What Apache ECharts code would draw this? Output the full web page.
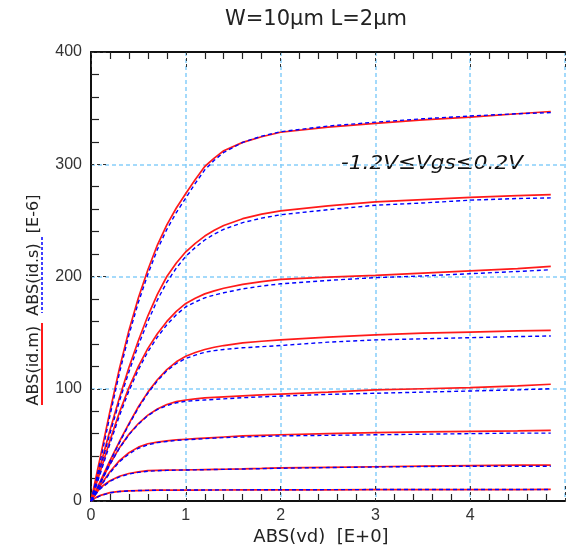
<!DOCTYPE html>
<html>
<head>
<meta charset="utf-8">
<script src="https://cdn.jsdelivr.net/npm/echarts@6/dist/echarts.min.js"></script>
<style>html,body{margin:0;padding:0;background:#fff}#c{width:568px;height:551px}</style>
</head>
<body>
<div id="c"></div>
<script>
// ---- data ----
const titleText = 'W=10\u03bcm L=2\u03bcm';
const xName = 'ABS(vd)  [E+0]';
const yNameParts = ['ABS(id.m)', 'ABS(id.s)', '[E-6]'];
const annotation = '-1.2V\u2264Vgs\u22640.2V';
const xTicks = [0, 1, 2, 3, 4];
const yTicks = [0, 100, 200, 300, 400];

const vd = [0,0.05,0.1,0.2,0.3,0.4,0.5,0.6,0.7,0.8,0.9,1.0,1.1,1.2,1.3,1.4,1.6,1.8,2.0,2.5,3.0,3.5,4.0,4.5,4.85];

// measured (red, solid)
const idm1 = [0,20,40,80,118,152,181,206,228,246,261,274,286.5,298,305.5,312,319.5,324.5,328.5,333,336.5,339.5,342,345,347];
const idm2 = [0,16,32,63,92,119,143,165,184,200,212,222,229.5,236,241.2,245.5,251.5,255.5,258.5,263,266.5,268.5,270.5,272,273];
const idm3 = [0,13.5,27,54,79,101,120,136,149,160,169,176,180.7,184.5,187.2,189.5,193,195.5,197.5,199.5,201,203,205,207,209];
const idm4 = [0,9,18,36,53,69,84,97,108,117,124,129,132.3,135,137,138.5,140.8,142.3,143.5,146,148,149.5,150.5,151.5,152];
const idm5 = [0,8,16.5,33,47.5,59.5,69,76.5,82,86,88.5,90,91,91.8,92.3,92.8,93.7,94.5,95.3,97,99,100,101,102.5,104];
const idm6 = [0,7,14,26,36,43,48,51,52.5,53.5,54.5,55,55.5,56,56.5,57,58,58.5,59,60,61,61.5,62,62.5,63];
const idm7 = [0,6.5,12,18,22,24.5,26,27,27.3,27.5,27.6,27.7,27.85,28,28.15,28.3,28.6,29,29.5,30,30.5,31,31.5,32,32];
const idm8 = [0,3,5,7.5,8.5,9,9.3,9.5,9.6,9.6,9.7,9.7,9.75,9.8,9.8,9.8,9.9,9.9,10,10,10.1,10.1,10.2,10.2,10.3];

// simulated (blue, dashed)
const ids1 = [0,17,36,76,114,148,177,202,224,242,257,270,283,295,303.5,310.5,319.5,325,329,334,337.5,340.5,343,345,346];
const ids2 = [0,15,30,60,89,115,139,160,179,195,207.5,218,225.8,232.5,237.8,242,248,252,255,259.5,263.5,265.5,268,269.5,270];
const ids3 = [0,12,25,51,76,98,117,133,146,157,166,173,177.3,181,183.5,185.5,189,191.5,193.5,196.5,199,200.5,202.5,204.5,206];
const ids4 = [0,8,17,35,52,68,83,96,107,116,122.5,127,130,132.5,134,135,136.5,137.5,138.5,141.5,143.5,144.5,145.5,146.5,147];
const ids5 = [0,8,16,32.5,47,59,68.5,76,81.5,85,87.5,88.8,89.5,90,90.5,91,92,92.8,93.5,95,96,97,98,99,100];
const ids6 = [0,6.5,13,25,35,42,47,50,52,53,54,54.5,55,55.5,56,56.5,57,57.5,58,58.5,59,59.5,60,60.5,60.5];
const ids7 = [0,6,11,17.5,21.5,24,25.5,26.5,27,27.3,27.5,27.6,27.75,27.9,28.05,28.2,28.5,28.8,29.2,29.8,30.3,30.7,31,31,31];
const ids8 = [0,2.8,4.8,7.3,8.4,9,9.3,9.5,9.6,9.7,9.7,9.8,9.8,9.8,9.85,9.9,9.9,10,10,10.1,10.2,10.2,10.2,10.3,10.3];

const measured = [idm1, idm2, idm3, idm4, idm5, idm6, idm7, idm8];
const simulated = [ids1, ids2, ids3, ids4, ids5, ids6, ids7, ids8];

// ---- chart ----
const chart = echarts.init(document.getElementById('c'), null, {renderer: 'canvas'});
const pair = arr => vd.map((x, i) => [x, arr[i]]);
const gridBlue = '#87cefa';
const series = [];
measured.forEach(arr => series.push({
  type: 'line', data: pair(arr), showSymbol: false, smooth: false,
  lineStyle: {color: '#ff1a1a', width: 1.7}, z: 3, silent: true
}));
simulated.forEach(arr => series.push({
  type: 'line', data: pair(arr), showSymbol: false, smooth: false,
  lineStyle: {color: '#0000ff', width: 1.4, type: [4, 3]}, z: 4, silent: true
}));

const xBase = {
  type: 'value', min: 0, max: 5, interval: 1,
  axisLine: {show: true, onZero: false, lineStyle: {color: '#111', width: 2}},
  axisTick: {show: true, inside: true, length: 18, lineStyle: {color: '#333', type: [3, 3], width: 1}},
  minorTick: {show: true, splitNumber: 5, length: 7, lineStyle: {color: '#222', width: 1.2}},
  splitLine: {show: false}
};

const option = {
  animation: false,
  grid: {left: 91, top: 52, width: 492, height: 449},
  xAxis: [
    Object.assign({}, xBase, {
      position: 'bottom',
      axisLabel: {show: true, margin: 7, color: '#333', fontFamily: 'Liberation Sans', fontSize: 16,
        formatter: v => xTicks.includes(v) ? String(v) : ''},
      splitLine: {show: true, lineStyle: {color: gridBlue, type: [4, 3], width: 1.5}}
    }),
    Object.assign({}, xBase, {position: 'top', axisLabel: {show: false}})
  ],
  yAxis: {
    type: 'value', min: 0, max: 400, interval: 100,
    axisLine: {show: true, onZero: false, lineStyle: {color: '#111', width: 2}},
    axisTick: {show: true, inside: true, length: 18, lineStyle: {color: '#333', type: [3, 3], width: 1}},
    minorTick: {show: true, splitNumber: 5, length: 8, lineStyle: {color: '#222', width: 1.2}},
    axisLabel: {margin: 9, color: '#333', fontFamily: 'Liberation Sans', fontSize: 16,
      formatter: v => yTicks.includes(v) ? String(v) : ''},
    splitLine: {show: true, lineStyle: {color: gridBlue, type: [4, 3], width: 1.5}}
  },
  series: series,
  graphic: [
    {type: 'text', x: 316, y: 20, style: {text: titleText, fill: '#222', font: '21px "DejaVu Sans"', textAlign: 'center', textVerticalAlign: 'middle'}},
    {type: 'text', x: 321, y: 537, style: {text: xName, fill: '#222', font: '18px "DejaVu Sans"', textAlign: 'center', textVerticalAlign: 'middle'}},
    {type: 'text', x: 34, y: 300, rotation: Math.PI / 2,
      style: {text: yNameParts.join('  '), fill: '#222', font: '16px "DejaVu Sans"', textAlign: 'center', textVerticalAlign: 'middle'}},
    {type: 'line', shape: {x1: 42, y1: 323, x2: 42, y2: 405}, style: {stroke: '#ff1a1a', lineWidth: 2}},
    {type: 'line', shape: {x1: 42, y1: 237, x2: 42, y2: 313}, style: {stroke: '#0000ff', lineWidth: 1.5, lineDash: [3, 2]}},
    {type: 'text', x: 341, y: 164, scaleX: 1.08, style: {text: annotation, fill: '#111', font: 'italic 20px "DejaVu Sans"', textAlign: 'left', textVerticalAlign: 'middle'}}
  ]
};
chart.setOption(option);
</script>
</body>
</html>
